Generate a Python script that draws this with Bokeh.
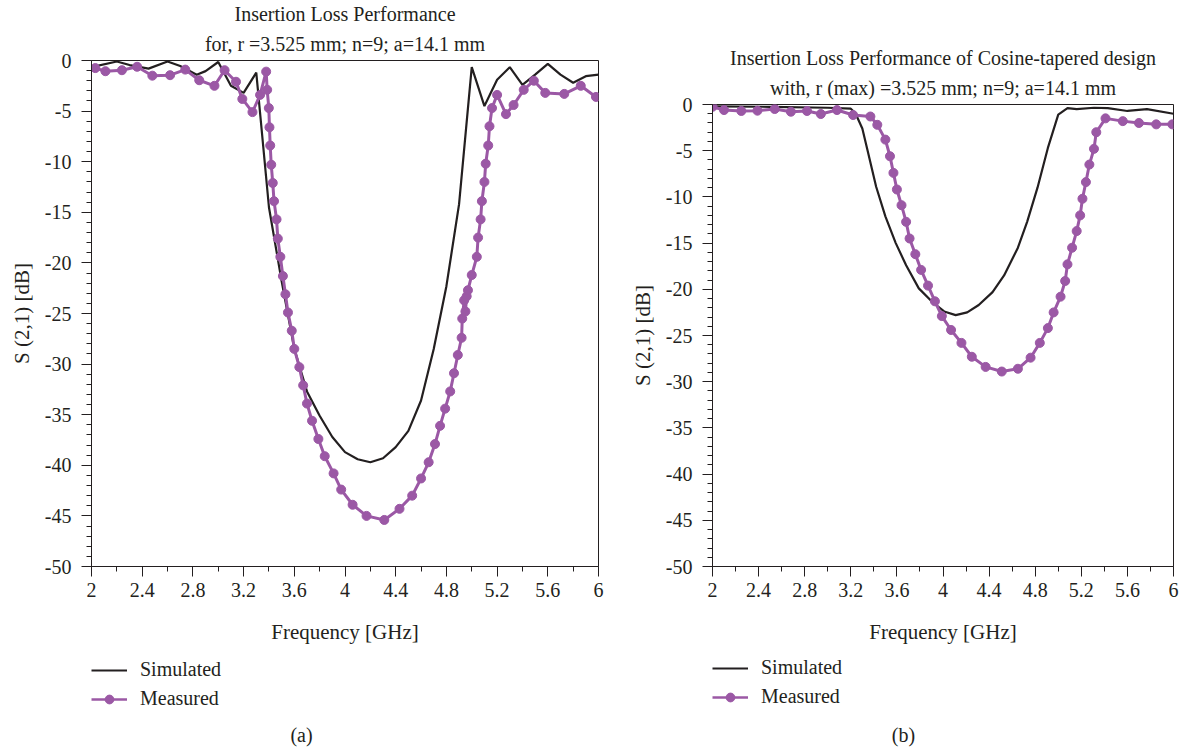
from bokeh.plotting import figure
from bokeh.models import FixedTicker, Legend, LegendItem, Title, Label
from bokeh.embed import file_html
from bokeh.resources import INLINE

FONT = "Liberation Serif"
INK = "#231f20"
PURPLE = "#9b58a5"

# ---------------- data: panel (a) ----------------
sim_a_f = [2.0, 2.2, 2.3, 2.45, 2.6, 2.7, 2.83, 2.9, 3.0, 3.1, 3.2, 3.3, 3.4, 3.5,
           3.6, 3.7, 3.8, 3.9, 4.0, 4.1, 4.2, 4.3, 4.4, 4.5, 4.6, 4.7, 4.8, 4.9,
           5.0, 5.1, 5.2, 5.3, 5.4, 5.5, 5.6, 5.7, 5.8, 5.9, 6.0]
sim_a_v = [-0.65, -0.1, -0.45, -0.8, -0.1, -0.55, -1.4, -1.05, -0.15, -2.5, -3.2, -1.2, -14.5, -21.8,
           -28.5, -32.7, -35.1, -37.2, -38.7, -39.4, -39.7, -39.3, -38.2, -36.6, -33.6, -28.5, -22.3, -14.2,
           -0.66, -4.5, -1.9, -0.66, -2.4, -1.4, -0.33, -1.4, -2.2, -1.55, -1.4]

mea_a_f = [2.03, 2.11, 2.24, 2.36, 2.48, 2.62, 2.74, 2.85, 2.97, 3.05, 3.14, 3.19, 3.27, 3.33,
           3.378, 3.386, 3.399, 3.404, 3.41, 3.418, 3.43, 3.44, 3.46, 3.47, 3.49, 3.51, 3.53, 3.55,
           3.58, 3.60, 3.64, 3.67, 3.70, 3.74, 3.79, 3.84, 3.91, 3.97, 4.06, 4.17, 4.31, 4.43,
           4.53, 4.60, 4.66, 4.71, 4.75, 4.79, 4.83, 4.86, 4.89, 4.92, 4.925, 4.94, 4.95, 4.96,
           4.97, 5.00, 5.04, 5.05, 5.07, 5.08, 5.10, 5.11, 5.13, 5.14, 5.16, 5.20, 5.27, 5.33,
           5.41, 5.49, 5.58, 5.73, 5.86, 5.98]
mea_a_v = [-0.75, -1.06, -0.96, -0.62, -1.5, -1.45, -0.9, -1.95, -2.5, -0.96, -2.1, -3.8, -5.1, -3.4,
           -1.1, -2.9, -4.7, -6.6, -8.4, -10.3, -12.1, -13.9, -15.7, -17.6, -19.4, -21.3, -23.1, -24.9,
           -26.7, -28.5, -30.3, -32.1, -33.9, -35.6, -37.4, -39.1, -40.8, -42.4, -43.9, -45.0, -45.4, -44.3,
           -43.0, -41.3, -39.7, -37.9, -36.1, -34.4, -32.7, -30.9, -29.1, -27.4, -25.5, -23.7, -24.8, -23.3,
           -22.7, -21.2, -19.4, -17.5, -15.7, -13.9, -12.0, -10.2, -8.4, -6.5, -4.7, -3.4, -5.3, -4.4,
           -2.9, -2.0, -3.2, -3.3, -2.5, -3.6]

# ---------------- data: panel (b) ----------------
sim_b_f = [2.0, 2.5, 3.0, 3.2, 3.24, 3.3, 3.344, 3.42, 3.5, 3.59, 3.68, 3.79, 3.91, 4.01, 4.11,
           4.21, 4.31, 4.43, 4.53, 4.65, 4.73, 4.82, 4.91, 5.0, 5.08, 5.16, 5.31, 5.43, 5.6, 5.77, 6.0]
sim_b_v = [-0.2, -0.25, -0.35, -0.45, -0.95, -2.6, -4.9, -8.9, -12.1, -15.0, -17.4, -19.9, -21.4, -22.4, -22.8,
           -22.5, -21.7, -20.3, -18.5, -15.5, -12.7, -9.0, -4.7, -1.1, -0.4, -0.5, -0.35, -0.4, -0.7, -0.5, -1.0]

mea_b_f = [2.0, 2.1, 2.25, 2.39, 2.54, 2.68, 2.82, 2.94, 3.08, 3.22, 3.37, 3.43, 3.50, 3.54, 3.57,
           3.60, 3.64, 3.68, 3.71, 3.76, 3.81, 3.87, 3.93, 3.99, 4.07, 4.16, 4.25, 4.37, 4.51, 4.65,
           4.76, 4.84, 4.91, 4.96, 5.02, 5.06, 5.08, 5.12, 5.16, 5.19, 5.21, 5.24, 5.27, 5.31, 5.33,
           5.41, 5.56, 5.70, 5.85, 5.99]
mea_b_v = [-0.25, -0.6, -0.7, -0.67, -0.49, -0.78, -0.7, -1.03, -0.6, -1.14, -1.3, -2.2, -3.8, -5.6, -7.4,
           -9.2, -10.9, -12.7, -14.5, -16.2, -17.9, -19.6, -21.3, -22.9, -24.4, -25.8, -27.3, -28.4, -28.9, -28.6,
           -27.4, -25.8, -24.2, -22.5, -20.8, -19.1, -17.3, -15.5, -13.7, -12.0, -10.2, -8.4, -6.5, -4.8, -3.0,
           -1.5, -1.8, -2.0, -2.15, -2.15]

# ---------------- ticks & texts ----------------
x_major = [2.0, 2.4, 2.8, 3.2, 3.6, 4.0, 4.4, 4.8, 5.2, 5.6, 6.0]
x_minor = [2.2, 2.6, 3.0, 3.4, 3.8, 4.2, 4.6, 5.0, 5.4, 5.8]
y_major = [0, -5, -10, -15, -20, -25, -30, -35, -40, -45, -50]
y_minor = [v for v in range(-50, 1)]

titles_a = ["Insertion Loss Performance", "for, r =3.525 mm; n=9; a=14.1 mm"]
titles_b = ["Insertion Loss Performance of Cosine-tapered design",
            "with, r (max) =3.525 mm; n=9; a=14.1 mm"]
x_label = "Frequency [GHz]"
y_label = "S (2,1) [dB]"
series_names = ["Simulated", "Measured"]
captions = ["(a)", "(b)"]

MAIN_H = 652
KEY_H = 100


def make_panel(sim_f, sim_v, mea_f, mea_v, titles, borders, width):
    bl, br, bt, bb = borders
    p = figure(width=width, height=MAIN_H, x_range=(2, 6), y_range=(-50, 0),
               output_backend="svg", toolbar_location=None, title=None,
               min_border_left=bl, min_border_right=br,
               min_border_top=bt, min_border_bottom=bb)
    p.grid.visible = False
    p.outline_line_color = INK
    p.outline_line_width = 1

    # two-line title: second line first (closest to the frame)
    p.add_layout(Title(text=titles[1], align="center", text_font=FONT, text_font_size="20px",
                       text_font_style="normal", text_color=INK, standoff=12), "above")
    p.add_layout(Title(text=titles[0], align="center", text_font=FONT, text_font_size="20px",
                       text_font_style="normal", text_color=INK, standoff=0), "above")

    p.xaxis.ticker = FixedTicker(ticks=x_major, minor_ticks=x_minor)
    p.xaxis.major_label_overrides = {t: f"{t:g}" for t in x_major}
    p.yaxis.ticker = FixedTicker(ticks=y_major, minor_ticks=y_minor)
    p.yaxis.major_label_overrides = {t: f"{t:g}" for t in y_major}

    for ax in (p.xaxis[0], p.yaxis[0]):
        ax.axis_line_color = INK
        ax.major_tick_line_color = INK
        ax.minor_tick_line_color = INK
        ax.major_tick_in = 0
        ax.minor_tick_in = 0
        ax.major_tick_out = 10
        ax.minor_tick_out = 5
        ax.major_label_text_font = FONT
        ax.major_label_text_font_size = "20px"
        ax.major_label_text_color = INK
        ax.axis_label_text_font = FONT
        ax.axis_label_text_font_size = "21px"
        ax.axis_label_text_font_style = "normal"
        ax.axis_label_text_color = INK
    p.xaxis.axis_label = x_label
    p.yaxis.axis_label = y_label
    p.xaxis.major_label_standoff = 6
    p.xaxis.axis_label_standoff = 20
    p.yaxis.major_label_standoff = 10
    p.yaxis.axis_label_standoff = 8

    p.line(sim_f, sim_v, line_color=INK, line_width=2.2)
    p.line(mea_f, mea_v, line_color=PURPLE, line_width=3)
    p.scatter(mea_f, mea_v, marker="circle", size=9, fill_color=PURPLE, line_color=PURPLE)
    return p


def make_key(width, legend_xy, caption, caption_x, sim_f, sim_v, mea_f, mea_v):
    # strip under each chart holding its legend and its caption; the series are
    # drawn again here (outside this strip's visible range) so the legend has keys
    q = figure(width=width, height=KEY_H, x_range=(0, width), y_range=(200, 200 + KEY_H),
               output_backend="svg", toolbar_location=None, title=None,
               x_axis_location=None, y_axis_location=None, min_border=0)
    q.grid.visible = False
    q.outline_line_color = None
    k_sim = q.line(sim_f, sim_v, line_color=INK, line_width=2.2)
    k_ml = q.line(mea_f, mea_v, line_color=PURPLE, line_width=2.5)
    k_md = q.scatter(mea_f, mea_v, marker="circle", size=6, fill_color=PURPLE, line_color=PURPLE)
    leg = Legend(items=[LegendItem(label=series_names[0], renderers=[k_sim]),
                        LegendItem(label=series_names[1], renderers=[k_ml, k_md])],
                 location=legend_xy, orientation="vertical",
                 border_line_color=None, background_fill_alpha=0,
                 padding=0, margin=0, spacing=6, label_height=22, glyph_height=22,
                 glyph_width=36, label_standoff=13,
                 label_text_font=FONT, label_text_font_size="20px", label_text_color=INK)
    q.add_layout(leg, "center")
    q.add_layout(Label(x=caption_x, y=218, text=caption, text_align="center",
                       text_baseline="middle", text_font=FONT, text_font_size="20px",
                       text_color=INK))
    return q


W1, W2 = 610, 576
p1 = make_panel(sim_a_f, sim_a_v, mea_a_f, mea_a_v, titles_a, (91, 12, 60, 86), W1)
p2 = make_panel(sim_b_f, sim_b_v, mea_b_f, mea_b_v, titles_b, (102, 13, 104, 86), W2)
k1 = make_key(W1, (91, 42), captions[0], 301, sim_a_f, sim_a_v, mea_a_f, mea_a_v)
k2 = make_key(W2, (102, 44), captions[1], 293, sim_b_f, sim_b_v, mea_b_f, mea_b_v)

TEMPLATE = """
{% block postamble %}
<style>
  body { display: grid !important; grid-template-columns: 610px 576px;
         grid-template-rows: 652px 100px; align-items: start; justify-items: start; }
</style>
{% endblock %}
"""

open("out.html", "w").write(file_html([p1, p2, k1, k2], INLINE, template=TEMPLATE))
